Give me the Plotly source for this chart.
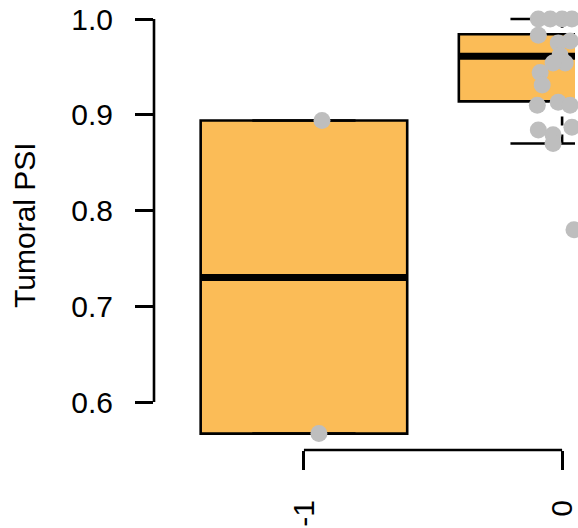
import plotly.graph_objects as go

# ---- data ----
categories = ["-1", "0"]
q1_vals = [0.567, 0.914]
median_vals = [0.730, 0.961]
q3_vals = [0.894, 0.984]
lower_whisker = [0.567, 0.870]
upper_whisker = [0.894, 1.000]

points_neg1 = [0.894, 0.567]
jitter_neg1 = [0.07, 0.058]

points_0 = [1.000, 1.000, 1.000, 1.000, 0.983, 0.977, 0.975, 0.962, 0.954, 0.954,
            0.944, 0.931, 0.913, 0.910, 0.910, 0.887, 0.884, 0.879, 0.870, 0.780]
jitter_0 = [-0.092, -0.046, 0.000, 0.038, -0.092, 0.031, -0.015, -0.008, 0.012, -0.035,
            -0.085, -0.077, -0.015, -0.096, 0.031, 0.038, -0.092, -0.035, -0.035, 0.046]

y_ticks = [0.6, 0.7, 0.8, 0.9, 1.0]
y_tick_labels = ["0.6", "0.7", "0.8", "0.9", "1.0"]

# ---- style ----
BOX_FILL = "#FBBC57"
PT_COL = "#BEBEBE"
LW = 2.6
FONT = "Liberation Sans, Arial, Helvetica, sans-serif"
BOXW = 0.8

fig = go.Figure()
xs = list(range(len(categories)))

fig.add_trace(go.Box(
    x=xs, q1=q1_vals, median=median_vals, q3=q3_vals,
    lowerfence=q1_vals, upperfence=q3_vals,
    fillcolor=BOX_FILL, line=dict(color="black", width=LW),
    width=BOXW, boxpoints=False, showlegend=False, hoverinfo="skip",
))

# thick medians
for i, m in zip(xs, median_vals):
    fig.add_trace(go.Scatter(x=[i - BOXW / 2, i + BOXW / 2], y=[m, m], mode="lines",
                             line=dict(color="black", width=7), showlegend=False, hoverinfo="skip"))

# whiskers (dashed) and staples
for i, lo, hi, a, b in zip(xs, lower_whisker, upper_whisker, q1_vals, q3_vals):
    for f, edge in ((lo, a), (hi, b)):
        if f != edge:
            fig.add_trace(go.Scatter(x=[i, i], y=[f, edge], mode="lines",
                                     line=dict(color="black", width=LW, dash="9px,9px"),
                                     showlegend=False, hoverinfo="skip"))
        fig.add_trace(go.Scatter(x=[i - BOXW / 4, i + BOXW / 4], y=[f, f], mode="lines",
                                 line=dict(color="black", width=LW),
                                 showlegend=False, hoverinfo="skip"))

# points
for i, vals, jit in ((0, points_neg1, jitter_neg1), (1, points_0, jitter_0)):
    fig.add_trace(go.Scatter(
        x=[i + j for j in jit], y=vals, mode="markers",
        marker=dict(color=PT_COL, size=17, line=dict(width=0)),
        showlegend=False, cliponaxis=False, hoverinfo="skip",
    ))

# R-style axis lines
fig.add_shape(type="line", xref="paper", yref="y", x0=0, x1=0,
              y0=min(y_ticks), y1=max(y_ticks), line=dict(color="black", width=LW))
fig.add_shape(type="line", xref="x", yref="paper", x0=xs[0], x1=xs[-1],
              y0=0, y1=0, line=dict(color="black", width=LW))

fig.add_annotation(text="Tumoral PSI", xref="paper", yref="paper", x=-0.309, y=0.5,
                   textangle=-90, showarrow=False, xanchor="center", yanchor="middle",
                   font=dict(family=FONT, size=30, color="black"))

fig.update_layout(
    width=578, height=528,
    margin=dict(l=154, r=0, t=0, b=78),
    plot_bgcolor="white", paper_bgcolor="white",
    font=dict(family=FONT, size=30, color="black"),
    xaxis=dict(range=[-151 / 260, 273 / 260], tickvals=xs, ticktext=categories,
               showgrid=False, zeroline=False, showline=False,
               ticks="outside", ticklen=19, tickwidth=LW, tickcolor="black",
               tickangle=-90, ticklabelstandoff=18, ticklabeloverflow="allow"),
    yaxis=dict(range=[0.6 - 48 / 957.5, 1.0 + 19 / 957.5], tickvals=y_ticks,
               ticktext=y_tick_labels, showgrid=False, zeroline=False, showline=False,
               ticks="outside", ticklen=18, tickwidth=LW, tickcolor="black",
               ticklabelstandoff=16),
)

fig.write_html("out.html", config={"displayModeBar": False})

# remove the browser's default 8px body margin so the figure sits at the page origin
with open("out.html", "r", encoding="utf-8") as fh:
    html = fh.read()
html = html.replace("<head>", "<head><style>html,body{margin:0;padding:0;overflow:hidden;}</style>", 1)
with open("out.html", "w", encoding="utf-8") as fh:
    fh.write(html)
